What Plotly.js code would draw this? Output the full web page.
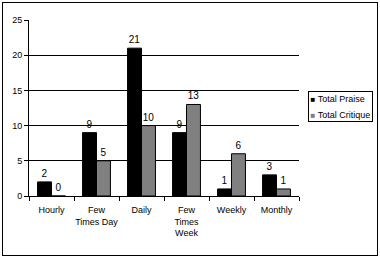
<!DOCTYPE html>
<html><head><meta charset="utf-8">
<script src="https://cdn.plot.ly/plotly-3.0.1.min.js"></script>
<style>
html,body{margin:0;padding:0;background:#fff;}
#wrap{position:relative;width:380px;height:258px;}
#chart{position:absolute;left:0;top:0;width:380px;height:258px;}
#frame{position:absolute;left:2px;top:2px;width:374px;height:252px;border:1px solid #000;pointer-events:none;}
</style>
</head><body>
<div id="wrap"><div id="chart"></div><div id="frame"></div></div>
<script>
var categories = ["Hourly", "Few<br>Times Day", "Daily", "Few<br>Times<br>Week", "Weekly", "Monthly"];
var praise = [2, 9, 21, 9, 1, 3];
var critique = [0, 5, 10, 13, 6, 1];
var seriesNames = ["Total Praise", "Total Critique"];
var seriesColors = ["#000000", "#808080"];
var yTicks = [0, 5, 10, 15, 20, 25];
var gridTicks = [5, 10, 15, 20];

var fam = "Liberation Sans, Arial, sans-serif";
var fnt = {family: fam, size: 9, color: "#000"};
function barTrace(name, vals, color) {
  return {type: "bar", name: name, x: categories, y: vals, text: vals.map(String),
    textposition: "outside", cliponaxis: false, textfont: {family: fam, size: 10, color: "#000"},
    marker: {color: color, line: {color: "#000", width: 1}}, showlegend: false};
}
var traces = [
  barTrace(seriesNames[0], praise, seriesColors[0]),
  barTrace(seriesNames[1], critique, seriesColors[1]),
  {type: "scatter", x: categories.slice(0,1), y: gridTicks.slice(0,1), yaxis: "y2", mode: "markers",
   marker: {opacity: 0}, showlegend: false, hoverinfo: "skip"}
];
var legendText = seriesNames.map(function(n, i) {
  return '<span style="color:' + seriesColors[i] + ';font-size:8px">\u25A0</span><span style="font-size:9px"> ' + n + '</span>';
}).join("<br>");
var layout = {
  width: 380, height: 258,
  margin: {l: 29, r: 81, t: 20, b: 62},
  paper_bgcolor: "#fff", plot_bgcolor: "rgba(0,0,0,0)",
  font: fnt,
  barmode: "group", bargap: 0.38, bargroupgap: 0,
  showlegend: false,
  annotations: [{xref: "paper", yref: "paper", x: 1.033, y: 0.597, xanchor: "left", yanchor: "top",
    text: legendText, showarrow: false, align: "left", bordercolor: "#000", borderwidth: 1, borderpad: 1.5,
    bgcolor: "#fff", font: {family: fam, size: 12.5, color: "#000"}}],
  xaxis: {type: "category", showline: true, linecolor: "#000", linewidth: 1, ticks: "outside",
          tickson: "boundaries", ticklen: 4, tickcolor: "#000", showgrid: false, tickfont: fnt, tickangle: 0,
          ticklabelstandoff: 5},
  yaxis: {range: [0, 25], tickvals: yTicks, showline: true, linecolor: "#000", linewidth: 1,
          ticks: "outside", ticklen: 4, tickcolor: "#000", showgrid: false, zeroline: false, tickfont: fnt},
  yaxis2: {range: [0, 25], overlaying: "y", side: "left", tickvals: gridTicks, showticklabels: false, showgrid: true,
           gridcolor: "#000", gridwidth: 1, zeroline: false, showline: false, ticks: ""}
};
Plotly.newPlot("chart", traces, layout, {staticPlot: true, displayModeBar: false});
</script>
</body></html>
